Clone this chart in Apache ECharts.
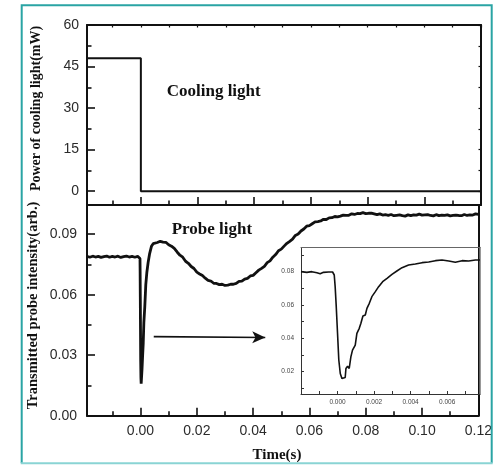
<!DOCTYPE html>
<html>
<head>
<meta charset="utf-8">
<script src="https://cdn.jsdelivr.net/npm/echarts@6/dist/echarts.min.js"></script>
<style>
  html, body { margin: 0; padding: 0; background: #fff; }
  #chart { width: 495px; height: 465px; }
</style>
</head>
<body>
<div id="chart"></div>
<script>
// Cooling beam power (mW): switched off at t = 0
const coolTime  = [-0.019, 0, 0, 0.12];
const coolPower = [48, 48, 0, 0];

// Transmitted probe intensity (arb.) over the whole record
const probeTime = [
  -0.019, -0.018, -0.017, -0.016, -0.015, -0.014, -0.013, -0.012, -0.011, -0.010,
  -0.009, -0.008, -0.007, -0.006, -0.005, -0.004, -0.003, -0.002, -0.001, -0.0003,
  -0.00018, -0.00013, -0.00007, 0, 0.00007, 0.00015, 0.00024, 0.00033, 0.00042, 0.00055,
  0.00073, 0.00097, 0.00119, 0.00152, 0.00188, 0.00225, 0.00271, 0.00325, 0.00389, 0.0045,
  0.005, 0.006, 0.007, 0.008, 0.009, 0.010, 0.011, 0.012, 0.013, 0.014,
  0.015, 0.016, 0.017, 0.018, 0.019, 0.020, 0.021, 0.022, 0.023, 0.024,
  0.025, 0.026, 0.027, 0.028, 0.029, 0.030, 0.031, 0.032, 0.033, 0.034,
  0.035, 0.036, 0.037, 0.038, 0.039, 0.040, 0.041, 0.042, 0.043, 0.044,
  0.045, 0.046, 0.047, 0.048, 0.049, 0.050, 0.051, 0.052, 0.053, 0.054,
  0.055, 0.056, 0.057, 0.058, 0.059, 0.060, 0.061, 0.062, 0.063, 0.064,
  0.065, 0.066, 0.067, 0.068, 0.069, 0.070, 0.071, 0.072, 0.073, 0.074,
  0.075, 0.076, 0.077, 0.078, 0.079, 0.080, 0.081, 0.082, 0.083, 0.084,
  0.085, 0.086, 0.087, 0.088, 0.089, 0.090, 0.091, 0.092, 0.093, 0.094,
  0.095, 0.096, 0.097, 0.098, 0.099, 0.100, 0.101, 0.102, 0.103, 0.104,
  0.105, 0.106, 0.107, 0.108, 0.109, 0.110, 0.111, 0.112, 0.113, 0.114,
  0.115, 0.116, 0.117, 0.118, 0.119, 0.120
];
const probeValue = [
  0.0790, 0.0786, 0.0791, 0.0787, 0.0790, 0.0785, 0.0789, 0.0792, 0.0786, 0.0790,
  0.0787, 0.0791, 0.0785, 0.0789, 0.0792, 0.0787, 0.0790, 0.0786, 0.0790, 0.0788,
  0.0780, 0.0710, 0.0590, 0.0430, 0.0270, 0.0189, 0.0159, 0.0153, 0.0165, 0.0233,
  0.0289, 0.0359, 0.0460, 0.0540, 0.0650, 0.0710, 0.0760, 0.0804, 0.0840, 0.0853,
  0.0860, 0.0859, 0.0865, 0.0861, 0.0860, 0.0848, 0.0841, 0.0830, 0.0812, 0.0796,
  0.0786, 0.0766, 0.0756, 0.0740, 0.0730, 0.0712, 0.0703, 0.0695, 0.0682, 0.0671,
  0.0668, 0.0657, 0.0656, 0.0650, 0.0652, 0.0646, 0.0648, 0.0652, 0.0652, 0.0656,
  0.0666, 0.0667, 0.0677, 0.0681, 0.0693, 0.0696, 0.0709, 0.0722, 0.0731, 0.0741,
  0.0759, 0.0768, 0.0786, 0.0799, 0.0818, 0.0826, 0.0841, 0.0855, 0.0865, 0.0876,
  0.0894, 0.0901, 0.0916, 0.0926, 0.0940, 0.0943, 0.0952, 0.0961, 0.0963, 0.0966,
  0.0974, 0.0973, 0.0981, 0.0982, 0.0988, 0.0986, 0.0990, 0.0995, 0.0994, 0.0994,
  0.1001, 0.0998, 0.1003, 0.1002, 0.1007, 0.1002, 0.1004, 0.1005, 0.1001, 0.0997,
  0.1001, 0.0995, 0.0997, 0.0994, 0.0998, 0.0992, 0.0994, 0.0996, 0.0992, 0.0990,
  0.0996, 0.0992, 0.0996, 0.0995, 0.1000, 0.0995, 0.0996, 0.0997, 0.0993, 0.0991,
  0.0997, 0.0992, 0.0995, 0.0993, 0.0996, 0.0991, 0.0993, 0.0995, 0.0993, 0.0992,
  0.0998, 0.0993, 0.0996, 0.0995, 0.1001, 0.0999
];

// Close-up of the dip right after the cooling beam is switched off
const insetTime = [
  -0.002, -0.00168, -0.00141, -0.00113, -0.00095, -0.00077, -0.00049, -0.00027, -0.00018, -0.00013,
  -0.00007, 0, 0.00007, 0.00015, 0.00024, 0.00033, 0.00042, 0.00046, 0.00055, 0.00064,
  0.00073, 0.00082, 0.00097, 0.00106, 0.00119, 0.00128, 0.00139, 0.00152, 0.00161, 0.00174,
  0.00188, 0.00207, 0.00225, 0.00247, 0.00271, 0.00298, 0.00325, 0.00353, 0.00389, 0.00426,
  0.00463, 0.00499, 0.00536, 0.00572, 0.00609, 0.00645, 0.00682, 0.00718, 0.00755, 0.0078
];
const insetValue = [
  0.0800, 0.0796, 0.0800, 0.0794, 0.0788, 0.0796, 0.0798, 0.0798, 0.0780, 0.0710,
  0.0590, 0.0430, 0.0270, 0.0189, 0.0159, 0.0153, 0.0165, 0.0219, 0.0233, 0.0219,
  0.0289, 0.0329, 0.0359, 0.0430, 0.0460, 0.0490, 0.0534, 0.0540, 0.0580, 0.0610,
  0.0650, 0.0680, 0.0710, 0.0740, 0.0760, 0.0784, 0.0804, 0.0824, 0.0840, 0.0846,
  0.0854, 0.0858, 0.0866, 0.0870, 0.0864, 0.0856, 0.0866, 0.0864, 0.0870, 0.0870
];

// Tick positions and labels
const timeLabels   = [0, 0.02, 0.04, 0.06, 0.08, 0.10, 0.12];
const timeMinor    = [-0.01, 0.01, 0.03, 0.05, 0.07, 0.09, 0.11];
const powerLabels  = [0, 15, 30, 45, 60];
const powerMinor   = [7.5, 22.5, 37.5, 52.5];
const probeLabels  = [0, 0.03, 0.06, 0.09];
const probeMinor   = [0.015, 0.045, 0.075];
const insetTLabels = [0, 0.002, 0.004, 0.006];
const insetTTicks  = [-0.001, 0, 0.001, 0.002, 0.003, 0.004, 0.005, 0.006, 0.007];
const insetVLabels = [0.02, 0.04, 0.06, 0.08];
const insetVTicks  = [0.01, 0.02, 0.03, 0.04, 0.05, 0.06, 0.07, 0.08, 0.09];

const INK = '#111';
const SANS = '"Liberation Sans", Arial, sans-serif';
const SERIF = '"Liberation Serif", "Times New Roman", serif';

function zip(xs, ys) { return xs.map((x, i) => [x, ys[i]]); }

function axis(o) {
  return {
    type: 'value',
    gridIndex: o.grid,
    position: o.pos,
    min: o.min,
    max: o.max,
    axisLine: {
      show: o.line !== false,
      onZero: false,
      lineStyle: { color: o.lineColor || INK, width: o.lineWidth || 2 }
    },
    axisTick: o.ticks ? {
      show: true, inside: true, length: o.tickLen, customValues: o.ticks,
      lineStyle: { color: o.tickColor || INK, width: o.tickWidth || 1.6 }
    } : { show: false },
    axisLabel: o.labels ? {
      show: true, customValues: o.labels, formatter: o.fmt, margin: o.margin,
      fontFamily: SANS, fontSize: o.fontSize, color: o.labelColor || '#2b2b2b'
    } : { show: false },
    splitLine: { show: false },
    splitArea: { show: false }
  };
}

const T_MIN = -0.019, T_MAX = 0.12;
const fmt2 = v => v.toFixed(2);

const xAxes = [
  // top panel
  axis({ grid: 0, pos: 'bottom', min: T_MIN, max: T_MAX, ticks: timeLabels, tickLen: 8 }),
  axis({ grid: 0, pos: 'bottom', min: T_MIN, max: T_MAX, ticks: timeMinor, tickLen: 4.5, line: false }),
  axis({ grid: 0, pos: 'top', min: T_MIN, max: T_MAX, ticks: timeLabels.concat(timeMinor), tickLen: 2.5, tickWidth: 1.2 }),
  // bottom panel
  axis({ grid: 1, pos: 'bottom', min: T_MIN, max: T_MAX, ticks: timeLabels, tickLen: 8,
         labels: timeLabels, fmt: fmt2, margin: 8, fontSize: 14 }),
  axis({ grid: 1, pos: 'bottom', min: T_MIN, max: T_MAX, ticks: timeMinor, tickLen: 4.5, line: false }),
  // inset
  axis({ grid: 2, pos: 'bottom', min: -0.002, max: 0.0078, ticks: insetTTicks, tickLen: 3, tickWidth: 1,
         lineWidth: 1, lineColor: '#333', tickColor: '#333',
         labels: insetTLabels, fmt: v => v.toFixed(3), margin: 5, fontSize: 6.5, labelColor: '#444' }),
  axis({ grid: 2, pos: 'top', min: -0.002, max: 0.0078, lineWidth: 1, lineColor: '#666' })
];

const yAxes = [
  // top panel
  axis({ grid: 0, pos: 'left', min: -5, max: 60, ticks: powerLabels, tickLen: 8,
         labels: powerLabels, fmt: v => String(v), margin: 8, fontSize: 14 }),
  axis({ grid: 0, pos: 'left', min: -5, max: 60, ticks: powerMinor, tickLen: 4.5, line: false }),
  axis({ grid: 0, pos: 'right', min: -5, max: 60, ticks: powerLabels.concat(powerMinor), tickLen: 2.5, tickWidth: 1.2 }),
  // bottom panel
  axis({ grid: 1, pos: 'left', min: 0, max: 0.1045, ticks: probeLabels, tickLen: 8,
         labels: probeLabels, fmt: fmt2, margin: 10, fontSize: 14 }),
  axis({ grid: 1, pos: 'left', min: 0, max: 0.1045, ticks: probeMinor, tickLen: 4.5, line: false }),
  axis({ grid: 1, pos: 'right', min: 0, max: 0.1045 }),
  // inset
  axis({ grid: 2, pos: 'left', min: 0.0066, max: 0.0945, ticks: insetVTicks, tickLen: 3, tickWidth: 1,
         lineWidth: 1, lineColor: '#333', tickColor: '#333',
         labels: insetVLabels, fmt: fmt2, margin: 7, fontSize: 6.5, labelColor: '#444' }),
  axis({ grid: 2, pos: 'right', min: 0.0066, max: 0.0945, lineWidth: 1.5, lineColor: '#777' })
];

const chart = echarts.init(document.getElementById('chart'), null, { renderer: 'canvas' });

chart.setOption({
  animation: false,
  backgroundColor: '#fff',
  grid: [
    { left: 87, right: 14, top: 25, height: 180 },
    { left: 87, right: 14, top: 205, height: 210.7 },
    { left: 301, top: 247.5, width: 179, height: 146.5, show: true, backgroundColor: '#fff', borderWidth: 0 }
  ],
  xAxis: xAxes,
  yAxis: yAxes,
  series: [
    {
      name: 'Cooling light', type: 'line', xAxisIndex: 0, yAxisIndex: 0,
      data: zip(coolTime, coolPower), showSymbol: false, symbol: 'none',
      lineStyle: { color: INK, width: 2 }
    },
    {
      name: 'Probe light', type: 'line', xAxisIndex: 3, yAxisIndex: 3,
      data: zip(probeTime, probeValue), showSymbol: false, symbol: 'none',
      lineStyle: { color: INK, width: 2.8 },
      markLine: {
        silent: true, animation: false,
        symbol: ['none', 'arrow'], symbolSize: [9, 13],
        label: { show: false },
        lineStyle: { color: INK, width: 1.6, type: 'solid' },
        emphasis: { disabled: true },
        data: [[{ coord: [0.0047, 0.0392] }, { coord: [0.0443, 0.0388] }]]
      }
    },
    {
      name: 'Dip', type: 'line', xAxisIndex: 5, yAxisIndex: 6,
      data: zip(insetTime, insetValue), showSymbol: false, symbol: 'none',
      lineStyle: { color: INK, width: 1.6 }
    }
  ],
  graphic: [
    { type: 'text', x: 36, y: 108.5, rotation: Math.PI / 2,
      style: { text: 'Power of cooling light(mW)', font: 'bold 14px ' + SERIF, fill: INK, align: 'center', verticalAlign: 'middle' } },
    { type: 'text', x: 33.5, y: 305.5, rotation: Math.PI / 2,
      style: { text: 'Transmitted probe intensity(arb.)', font: 'bold 14.5px ' + SERIF, fill: INK, align: 'center', verticalAlign: 'middle' } },
    { type: 'text', x: 277, y: 455,
      style: { text: 'Time(s)', font: 'bold 15px ' + SERIF, fill: INK, align: 'center', verticalAlign: 'middle' } },
    { type: 'text', x: 166.7, y: 91.7,
      style: { text: 'Cooling light', font: 'bold 17px ' + SERIF, fill: INK, align: 'left', verticalAlign: 'middle' } },
    { type: 'text', x: 171.7, y: 229.3,
      style: { text: 'Probe light', font: 'bold 17px ' + SERIF, fill: INK, align: 'left', verticalAlign: 'middle' } },
    // page frame
    { type: 'rect', z: 90, shape: { x: 492.7, y: 0, width: 3, height: 465 }, style: { fill: '#fff' } },
    { type: 'polyline', z: 100,
      shape: { points: [[21.7, 463], [21.7, 5.2], [491.7, 5.2], [491.7, 463]] },
      style: { stroke: '#2aa4a4', lineWidth: 2, fill: null } },
    { type: 'line', z: 100,
      shape: { x1: 20.7, y1: 463.3, x2: 492.7, y2: 463.3 },
      style: { stroke: '#8ad4d4', lineWidth: 2 } }
  ]
});
</script>
</body>
</html>
